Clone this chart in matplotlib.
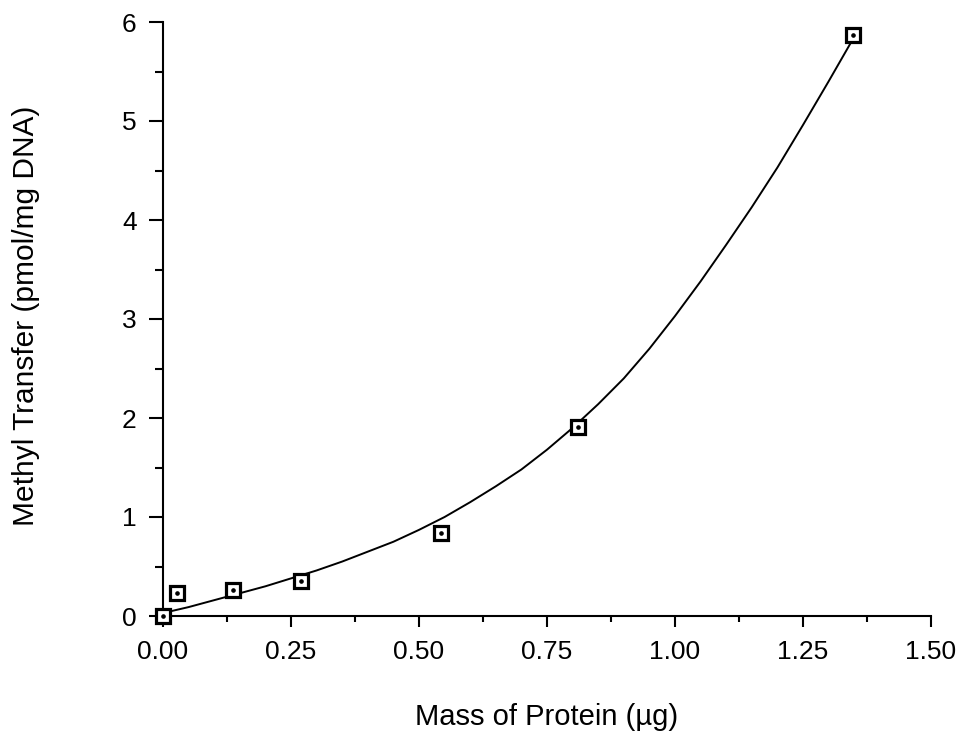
import matplotlib
matplotlib.use("Agg")
import matplotlib.pyplot as plt
from matplotlib.ticker import MultipleLocator, FormatStrFormatter

plt.rcParams['font.family'] = ['Liberation Sans', 'DejaVu Sans']

# Measured methyl transfer vs. protein mass
protein_ug = [0.0, 0.027, 0.137, 0.270, 0.543, 0.810, 1.348]
methyl_transfer = [0.0, 0.23, 0.26, 0.35, 0.84, 1.91, 5.87]

# Fitted curve, sampled along its length
fit_x = [0.0, 0.05, 0.1, 0.15, 0.2, 0.25, 0.3, 0.35, 0.4, 0.45, 0.5, 0.55,
         0.6, 0.65, 0.7, 0.75, 0.8, 0.85, 0.9, 0.95, 1.0, 1.05, 1.1, 1.15,
         1.2, 1.25, 1.3, 1.35]
fit_y = [0.03, 0.09, 0.16, 0.23, 0.30, 0.38, 0.46, 0.55, 0.65, 0.75, 0.87, 1.00,
         1.15, 1.31, 1.48, 1.68, 1.90, 2.14, 2.40, 2.70, 3.03, 3.38, 3.75, 4.13,
         4.53, 4.96, 5.40, 5.85]

x_label = "Mass of Protein (\u00b5g)"
y_label = "Methyl Transfer (pmol/mg DNA)"

fig = plt.figure(figsize=(9.63, 7.31), dpi=100)
ax = fig.add_axes([163 / 963, 115 / 731, 768 / 963, 594 / 731])

ax.plot(fit_x, fit_y, color="black", lw=1.4, zorder=2)
ax.plot(protein_ug, methyl_transfer, ls="none", marker="s", ms=9.5,
        mfc="white", mec="black", mew=2.3, clip_on=False, zorder=4)
ax.plot(protein_ug, methyl_transfer, ls="none", marker="o", ms=2.3,
        mfc="black", mec="black", clip_on=False, zorder=5)

ax.set_xlim(0, 1.5)
ax.set_ylim(0, 6)

for side in ("top", "right"):
    ax.spines[side].set_visible(False)
for side in ("left", "bottom"):
    ax.spines[side].set_linewidth(1.5)

ax.xaxis.set_major_locator(MultipleLocator(0.25))
ax.xaxis.set_minor_locator(MultipleLocator(0.125))
ax.xaxis.set_major_formatter(FormatStrFormatter("%.2f"))
ax.yaxis.set_major_locator(MultipleLocator(1))
ax.yaxis.set_minor_locator(MultipleLocator(0.5))

ax.tick_params(axis="x", which="major", direction="out", length=8, width=1.5,
               pad=9, labelsize=19)
ax.tick_params(axis="x", which="minor", direction="out", length=4.5, width=1.5)
ax.tick_params(axis="y", which="major", direction="out", length=10, width=1.5,
               pad=9, labelsize=19)
ax.tick_params(axis="y", which="minor", direction="out", length=6, width=1.5)

ax.set_xlabel(x_label, fontsize=21, va="center")
ax.xaxis.set_label_coords(0.5, -0.170)
ax.set_ylabel(y_label, fontsize=21.5, va="center")
ax.yaxis.set_label_coords(-0.178, 0.505)

fig.savefig("out.png", dpi=100)
